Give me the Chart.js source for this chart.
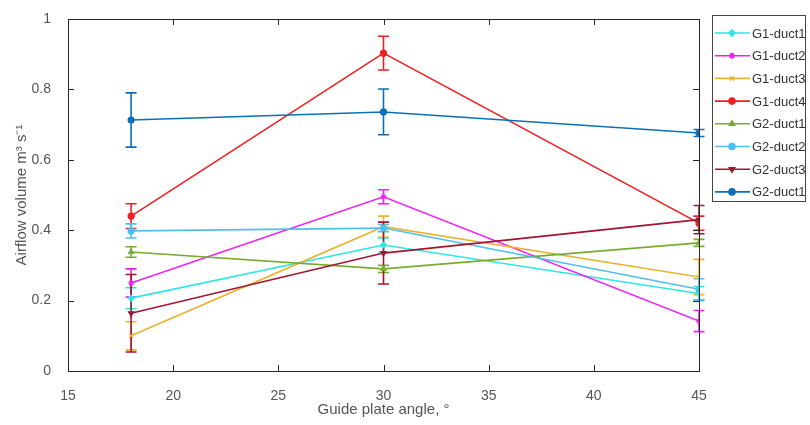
<!DOCTYPE html>
<html>
<head>
<meta charset="utf-8">
<script src="https://cdn.jsdelivr.net/npm/chart.js@4.4.1/dist/chart.umd.min.js"></script>
<style>
  html, body { margin: 0; padding: 0; background: #fff; }
  #wrap { width: 810px; height: 425px; }
</style>
</head>
<body>
<div id="wrap"><canvas id="myChart" width="810" height="425"></canvas></div>
<script>
// guide plate angles
var angles = [18, 30, 45];

var seriesNames = ['G1-duct1', 'G1-duct2', 'G1-duct3', 'G1-duct4', 'G2-duct1', 'G2-duct2', 'G2-duct3', 'G2-duct1'];

// airflow volume, m3/s
var g1duct1 = [0.207, 0.358, 0.220];
var g1duct2 = [0.250, 0.495, 0.142];
var g1duct3 = [0.100, 0.410, 0.267];
var g1duct4 = [0.440, 0.903, 0.420];
var g2duct1 = [0.338, 0.290, 0.364];
var g2duct2 = [0.398, 0.406, 0.232];
var g2duct3 = [0.164, 0.335, 0.430];
var g2duct1b = [0.713, 0.736, 0.676];

// error bar half-lengths
var err1 = [0.030, 0.020, 0.020];
var err2 = [0.040, 0.020, 0.030];
var err3 = [0.040, 0.030, 0.050];
var err4 = [0.035, 0.048, 0.020];
var err5 = [0.015, 0.010, 0.010];
var err6 = [0.020, 0.010, 0.030];
var err7 = [0.110, 0.088, 0.040];
var err8 = [0.077, 0.065, 0.010];

var xTicks = [15, 20, 25, 30, 35, 40, 45];
var yTicks = [0, 0.2, 0.4, 0.6, 0.8, 1];

var colors = ['#2ee6e6', '#f020f0', '#e8b430', '#f02020', '#77ac30', '#4dbeee', '#a2142f', '#0a6fb8'];
var markers = ['rectRot', 'star', 'crossRot', 'circle', 'triangle', 'circle', 'triangle', 'circle'];
var rotations = [0, 0, 0, 0, 0, 0, 180, 0];

var allValues = [g1duct1, g1duct2, g1duct3, g1duct4, g2duct1, g2duct2, g2duct3, g2duct1b];
var allErrors = [err1, err2, err3, err4, err5, err6, err7, err8];

var datasets = [];
for (var i = 0; i < allValues.length; i++) {
  datasets.push({
    label: seriesNames[i],
    data: angles.map(function (a, j) { return { x: a, y: allValues[i][j] }; }),
    errors: allErrors[i],
    borderColor: colors[i],
    backgroundColor: colors[i],
    borderWidth: 1.6,
    pointStyle: markers[i],
    rotation: rotations[i],
    pointRadius: 3,
    pointBorderWidth: 1.2,
    tension: 0,
    order: allValues.length - i
  });
}

var axisColor = '#262626';

var boxPlugin = {
  id: 'matlabBox',
  beforeDatasetsDraw: function (chart) {
    var ctx = chart.ctx;
    var xs = chart.scales.x, ys = chart.scales.y;
    ctx.save();
    // error bars
    chart.data.datasets.forEach(function (ds) {
      ctx.strokeStyle = ds.borderColor;
      ctx.lineWidth = 1.6;
      ds.data.forEach(function (p, j) {
        var px = xs.getPixelForValue(p.x);
        var top = ys.getPixelForValue(p.y + ds.errors[j]);
        var bot = ys.getPixelForValue(p.y - ds.errors[j]);
        ctx.beginPath();
        ctx.moveTo(px, top); ctx.lineTo(px, bot);
        ctx.moveTo(px - 5.5, top); ctx.lineTo(px + 5.5, top);
        ctx.moveTo(px - 5.5, bot); ctx.lineTo(px + 5.5, bot);
        ctx.stroke();
      });
    });
    ctx.restore();
  },
  afterDraw: function (chart) {
    var ctx = chart.ctx;
    var ca = chart.chartArea;
    var xs = chart.scales.x, ys = chart.scales.y;
    ctx.save();
    ctx.strokeStyle = axisColor;
    ctx.lineWidth = 1;
    ctx.strokeRect(ca.left + 0.5, ca.top + 0.5, ca.right - ca.left, ca.bottom - ca.top);
    ctx.beginPath();
    xTicks.slice(1, -1).forEach(function (v) {
      var px = Math.round(xs.getPixelForValue(v)) + 0.5;
      ctx.moveTo(px, ca.bottom); ctx.lineTo(px, ca.bottom - 6);
      ctx.moveTo(px, ca.top); ctx.lineTo(px, ca.top + 6);
    });
    yTicks.slice(1, -1).forEach(function (v) {
      var py = Math.round(ys.getPixelForValue(v)) + 0.5;
      ctx.moveTo(ca.left, py); ctx.lineTo(ca.left + 6, py);
      ctx.moveTo(ca.right, py); ctx.lineTo(ca.right - 6, py);
    });
    ctx.stroke();

    // legend
    var lx = 712, ly = 15, lw = 93, lh = 186;
    ctx.fillStyle = '#fff';
    ctx.fillRect(lx, ly, lw, lh);
    ctx.strokeStyle = '#444';
    ctx.strokeRect(lx + 0.5, ly + 0.5, lw, lh);
    ctx.font = '13px "Liberation Sans", Arial, sans-serif';
    ctx.textBaseline = 'middle';
    chart.data.datasets.forEach(function (ds, k) {
      var y = ly + 18 + k * 22.7;
      ctx.strokeStyle = ds.borderColor;
      ctx.lineWidth = 1.6;
      ctx.beginPath();
      ctx.moveTo(lx + 3, y); ctx.lineTo(lx + 38, y);
      ctx.stroke();
      ctx.fillStyle = ds.backgroundColor;
      Chart.helpers.drawPoint(ctx, {
        pointStyle: ds.pointStyle, rotation: ds.rotation, radius: 3, borderWidth: 1.2
      }, lx + 20, y);
      ctx.fillStyle = '#333';
      ctx.fillText(ds.label, lx + 40, y + 1);
    });
    ctx.restore();
  }
};

var ctx = document.getElementById('myChart');
var myChart = new Chart(ctx, {
  type: 'line',
  data: { datasets: datasets },
  plugins: [boxPlugin],
  options: {
    responsive: false,
    animation: false,
    layout: { padding: { left: 0, right: 111, top: 19, bottom: 0 } },
    plugins: { legend: { display: false }, tooltip: { enabled: false } },
    scales: {
      x: {
        type: 'linear',
        min: 15,
        max: 45,
        afterBuildTicks: function (s) { s.ticks = xTicks.map(function (v) { return { value: v }; }); },
        afterFit: function (s) { s.height = 54; },
        grid: { display: false },
        border: { display: false },
        ticks: { color: '#555', padding: 9, font: { size: 14, family: '"Liberation Sans", Arial' } },
        title: {
          display: true,
          text: 'Guide plate angle, \u00b0',
          color: '#555',
          padding: { top: 0, bottom: 6 },
          font: { size: 15, family: '"Liberation Sans", Arial' }
        }
      },
      y: {
        min: 0,
        max: 1,
        afterBuildTicks: function (s) { s.ticks = yTicks.map(function (v) { return { value: v }; }); },
        afterFit: function (s) { s.width = 68; },
        grid: { display: false },
        border: { display: false },
        ticks: {
          color: '#555',
          padding: 9,
          font: { size: 14, family: '"Liberation Sans", Arial' },
          callback: function (v) { return String(v); }
        },
        title: {
          display: true,
          text: 'Airflow volume m\u00b3 s\u207b\u00b9',
          color: '#555',
          padding: { top: 13, bottom: 0 },
          font: { size: 15, family: '"Liberation Sans", Arial' }
        }
      }
    }
  }
});
</script>
</body>
</html>
